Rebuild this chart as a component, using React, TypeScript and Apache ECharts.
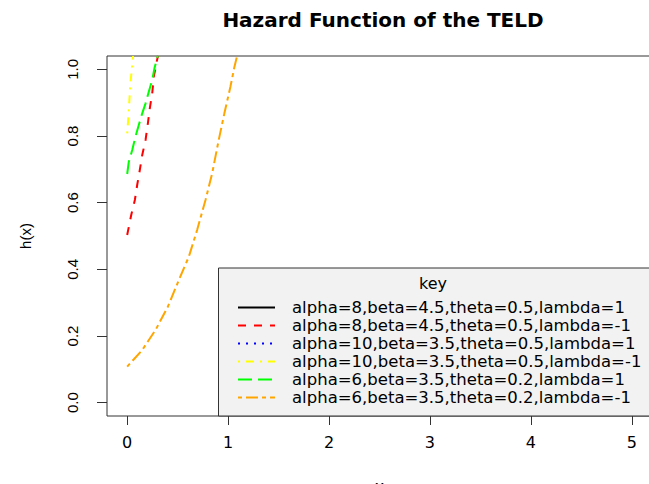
import React, { useEffect, useRef } from "react";
import * as echarts from "echarts";

const titleText = "Hazard Function of the TELD";
const xTicks = [0, 1, 2, 3, 4, 5];
const yTicks = [0, 0.2, 0.4, 0.6, 0.8, 1.0];

const seriesNames = [
  "alpha=8,beta=4.5,theta=0.5,lambda=1",
  "alpha=8,beta=4.5,theta=0.5,lambda=-1",
  "alpha=10,beta=3.5,theta=0.5,lambda=1",
  "alpha=10,beta=3.5,theta=0.5,lambda=-1",
  "alpha=6,beta=3.5,theta=0.2,lambda=1",
  "alpha=6,beta=3.5,theta=0.2,lambda=-1",
];
const seriesColors = ["#000000", "#ff0000", "#0000ff", "#ffff00", "#00ff00", "#ffa500"];
const seriesDash: any[] = ["solid", [8, 8], [2, 6], [2, 6, 8, 6], [14, 6], [4, 4, 12, 4]];

// series 1 (black) and 3 (blue): no visible points in range
const blackX: number[] = [];
const blackY: number[] = [];
const blueX: number[] = [];
const blueY: number[] = [];

const redX = [0, 0.04, 0.076, 0.099, 0.125, 0.149, 0.182, 0.205, 0.224, 0.248, 0.264, 0.29, 0.305];
const redY = [0.503, 0.563, 0.608, 0.653, 0.698, 0.743, 0.788, 0.838, 0.883, 0.928, 0.978, 1.02, 1.04];

const yellowX = [0, 0.012, 0.022, 0.032, 0.045, 0.058];
const yellowY = [0.808, 0.858, 0.908, 0.958, 0.998, 1.04];

const greenX = [0, 0.016, 0.05, 0.082, 0.115, 0.149, 0.182, 0.214, 0.248, 0.27, 0.303];
const greenY = [0.686, 0.723, 0.758, 0.798, 0.833, 0.868, 0.898, 0.933, 0.968, 1.003, 1.04];

const orangeX = [0, 0.149, 0.281, 0.403, 0.512, 0.611, 0.693, 0.776, 0.842, 0.907, 0.963, 1.023, 1.063, 1.089];
const orangeY = [0.108, 0.158, 0.218, 0.288, 0.368, 0.438, 0.518, 0.608, 0.688, 0.788, 0.868, 0.948, 1.008, 1.04];

const allX = [blackX, redX, blueX, yellowX, greenX, orangeX];
const allY = [blackY, redY, blueY, yellowY, greenY, orangeY];

export default function App() {
  const ref = useRef<HTMLDivElement>(null);
  useEffect(() => {
    if (!ref.current) return;
    const chart = echarts.init(ref.current, null, { renderer: "svg" });
    const series = seriesNames.map((name, i) => ({
      name,
      type: "line",
      data: allX[i].map((x, j) => [x, allY[i][j]]),
      symbol: "none",
      clip: true,
      lineStyle: { color: seriesColors[i], width: 2, type: seriesDash[i] },
      itemStyle: { color: seriesColors[i] },
      z: 2,
    }));
    chart.setOption({
      animation: false,
      backgroundColor: "#ffffff",
      title: {
        text: titleText,
        left: 378,
        textAlign: "center",
        top: 5,
        textStyle: { fontFamily: "DejaVu Sans", fontWeight: "bold", fontSize: 20, color: "#000" },
      },
      grid: {
        left: 107,
        top: 56,
        right: -3,
        bottom: 68,
        outerBoundsMode: "none",
        containLabel: false,
        show: true,
        borderColor: "#333",
        borderWidth: 1,
        backgroundColor: "transparent",
      },
      xAxis: {
        type: "value",
        min: -0.2,
        max: 5.2,
        name: "x",
        nameLocation: "middle",
        nameGap: 62,
        nameTextStyle: { fontFamily: "DejaVu Sans", fontSize: 16, color: "#000" },
        axisLine: { show: false, onZero: false },
        splitLine: { show: false },
        axisTick: { show: true, length: 9, customValues: xTicks, lineStyle: { color: "#333" } },
        axisLabel: {
          customValues: xTicks,
          formatter: (v: number) => String(v),
          fontFamily: "DejaVu Sans",
          fontSize: 16,
          color: "#000",
          margin: 18,
        },
      },
      yAxis: {
        type: "value",
        min: -0.04,
        max: 1.04,
        name: "h(x)",
        nameLocation: "middle",
        nameGap: 74,
        nameTextStyle: { fontFamily: "Liberation Sans", fontSize: 15, color: "#000" },
        axisLine: { show: false, onZero: false },
        splitLine: { show: false },
        axisTick: { show: true, length: 10, customValues: yTicks, lineStyle: { color: "#333" } },
        axisLabel: {
          customValues: yTicks,
          formatter: (v: number) => v.toFixed(1),
          rotate: 90,
          fontFamily: "Liberation Sans",
          fontSize: 15,
          color: "#000",
          margin: 27,
        },
      },
      legend: {
        orient: "vertical",
        left: 237,
        top: 299,
        padding: 0,
        itemWidth: 37,
        itemHeight: 14,
        itemGap: 1,
        selectedMode: false,
        data: seriesNames,
        itemStyle: { opacity: 0 },
        textStyle: {
          fontFamily: "DejaVu Sans",
          fontSize: 16.5,
          color: "#000",
          lineHeight: 14,
          padding: [0, 0, 0, 12],
        },
        z: 5,
      },
      graphic: [
        {
          type: "rect",
          z: 3,
          shape: { x: 218.5, y: 268, width: 450, height: 148 },
          style: { fill: "#f2f2f2", stroke: "#333", lineWidth: 1 },
        },
        {
          type: "text",
          z: 4,
          x: 433,
          y: 283,
          style: {
            text: "key",
            fontFamily: "DejaVu Sans",
            fontSize: 16,
            fill: "#000",
            textAlign: "center",
            textVerticalAlign: "middle",
          },
        },
      ],
      series,
    });
    return () => chart.dispose();
  }, []);
  return (
    <div
      ref={ref}
      style={{ position: "fixed", left: 0, top: 0, width: 649, height: 484 }}
    />
  );
}
